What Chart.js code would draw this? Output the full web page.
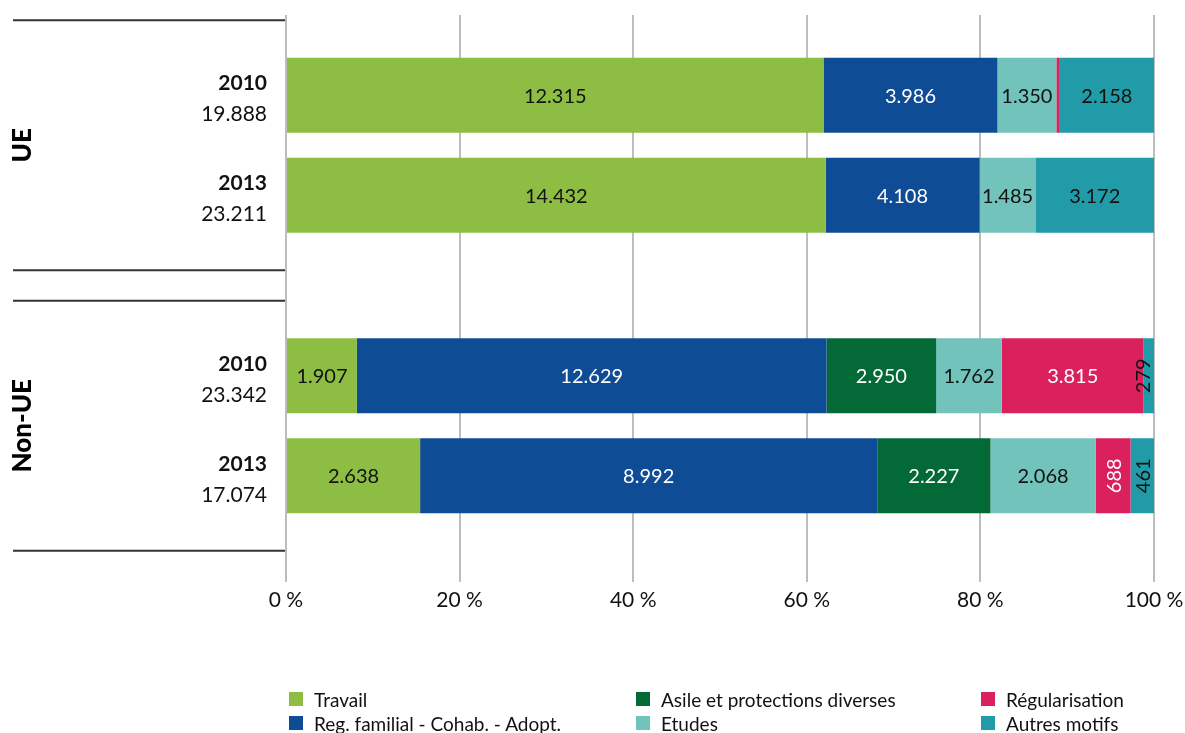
<!DOCTYPE html>
<html lang="fr">
<head>
<meta charset="utf-8">
<script src="https://cdn.jsdelivr.net/npm/chart.js@4/dist/chart.umd.min.js"></script>
<style>
  html, body { margin: 0; padding: 0; background: #fff; }
  #wrap { position: relative; width: 1185px; height: 733px; font-family: Lato, sans-serif; }
  #legend {
    position: absolute; left: 289px; top: 687px;
    display: grid; grid-auto-flow: column;
    grid-template-rows: 24px 24px; grid-template-columns: 347px 345px 200px;
    font-size: 19px; color: #111;
  }
  .item { display: flex; align-items: center; white-space: nowrap; }
  .sw { width: 14px; height: 14px; margin-right: 11px; flex: none; }
</style>
</head>
<body>
<div id="wrap">
  <canvas id="chart"></canvas>
  <div id="legend"></div>
</div>
<script>
// groups, years and motives
const groups = ["UE", "Non-UE"];
const years = ["2010", "2013"];
const categories = ["Travail", "Reg. familial - Cohab. - Adopt.", "Asile et protections diverses",
                    "Etudes", "Régularisation", "Autres motifs"];
const colors = ["#8dbe43", "#0f4c96", "#036a37", "#72c3bb", "#da205d", "#229ba9"];
const textColors = ["#111", "#fff", "#fff", "#111", "#fff", "#111"];

// values per motive, same order as categories
const ue2010 = [12315, 3986, 0, 1350, 79, 2158];
const ue2013 = [14432, 4108, 14, 1485, 0, 3172];
const nonUe2010 = [1907, 12629, 2950, 1762, 3815, 279];
const nonUe2013 = [2638, 8992, 2227, 2068, 688, 461];

// printed totals [UE, Non-UE]
const totals2010 = [19888, 23342];
const totals2013 = [23211, 17074];

const xTicks = [0, 20, 40, 60, 80, 100];

const yearValues = { "2010": [ue2010, nonUe2010], "2013": [ue2013, nonUe2013] };
const yearTotals = { "2010": totals2010, "2013": totals2013 };

const fmt = n => String(n).replace(/\B(?=(\d{3})+(?!\d))/g, ".");
const FONT = "Lato, sans-serif";
const GRID_TOP = 15;

// one dataset per motive and year, stacked by year
const datasets = [];
years.forEach(yr => {
  categories.forEach((cat, c) => {
    datasets.push({
      label: cat,
      stack: yr,
      raw: groups.map((g, gi) => yearValues[yr][gi][c]),
      data: groups.map((g, gi) => yearValues[yr][gi][c] / yearTotals[yr][gi] * 100),
      backgroundColor: colors[c],
      textColor: textColors[c],
      borderWidth: 0,
      categoryPercentage: 0.713,
      barPercentage: 0.75
    });
  });
});

// draw values, row labels and group labels
const annotations = {
  id: "annotations",
  beforeDatasetsDraw(chart) {
    const { ctx, chartArea } = chart;
    ctx.save();
    ctx.fillStyle = "#fff";
    ctx.fillRect(chartArea.left - 3, 0, chartArea.width + 6, GRID_TOP);
    ctx.restore();
  },
  afterDatasetsDraw(chart) {
    const { ctx, chartArea } = chart;
    ctx.save();
    ctx.font = "20px " + FONT;
    ctx.textBaseline = "middle";
    ctx.textAlign = "center";
    chart.data.datasets.forEach((ds, i) => {
      chart.getDatasetMeta(i).data.forEach((bar, j) => {
        const { x, base, y } = bar.getProps(["x", "base", "y"], true);
        const w = Math.abs(x - base);
        if (w < 6) return;
        const txt = fmt(ds.raw[j]);
        const tw = ctx.measureText(txt).width;
        ctx.fillStyle = ds.textColor;
        const cx = (x + base) / 2;
        if (tw + 2 > w) {
          ctx.save();
          ctx.translate(Math.min(cx, chartArea.right - 11), y);
          ctx.rotate(-Math.PI / 2);
          ctx.fillText(txt, 0, 1);
          ctx.restore();
        } else {
          ctx.fillText(txt, cx, y + 1);
        }
      });
    });
    ctx.restore();
  },
  afterDraw(chart) {
    const { ctx } = chart;
    const yScale = chart.scales.y;
    ctx.save();
    // year + total per bar
    ctx.textAlign = "right";
    ctx.textBaseline = "middle";
    ctx.fillStyle = "#111";
    years.forEach((yr, k) => {
      const meta = chart.getDatasetMeta(k * categories.length);
      meta.data.forEach((bar, gi) => {
        ctx.font = "bold 21px " + FONT;
        ctx.fillText(yr, 267, bar.y - 12);
        ctx.font = "21px " + FONT;
        ctx.fillText(fmt(yearTotals[yr][gi]), 267, bar.y + 19);
      });
    });
    // group separators and names
    groups.forEach((g, gi) => {
      const cy = yScale.getPixelForValue(gi);
      ctx.strokeStyle = "#333";
      ctx.lineWidth = 2;
      [cy - 125, cy + 125].forEach(ly => {
        ctx.beginPath();
        ctx.moveTo(13, ly);
        ctx.lineTo(285, ly);
        ctx.stroke();
      });
      ctx.save();
      ctx.translate(23, cy);
      ctx.rotate(-Math.PI / 2);
      ctx.textAlign = "center";
      ctx.fillStyle = "#000";
      ctx.font = "900 26px " + FONT;
      ctx.fillText(g, 0, 0);
      ctx.restore();
    });
    ctx.restore();
  }
};

new Chart(document.getElementById("chart"), {
  type: "bar",
  data: { labels: groups, datasets },
  options: {
    indexAxis: "y",
    responsive: true,
    maintainAspectRatio: false,
    animation: false,
    layout: { padding: { left: 286, right: 31, top: 5, bottom: 107 } },
    plugins: { legend: { display: false }, tooltip: { enabled: false } },
    scales: {
      x: {
        stacked: true,
        min: 0, max: 100,
        afterBuildTicks: s => { s.ticks = xTicks.map(v => ({ value: v })); },
        afterFit: s => { s.height = 60; s.paddingLeft = 0; s.paddingRight = 0; },
        ticks: { callback: v => v + " %", font: { family: FONT, size: 21 }, color: "#111", padding: 6 },
        grid: { color: "#bdbdbd", lineWidth: 2, tickLength: 16 },
        border: { display: false }
      },
      y: { stacked: true, display: false }
    }
  },
  plugins: [annotations]
});

// html legend
const legend = document.getElementById("legend");
categories.forEach((cat, c) => {
  const it = document.createElement("div");
  it.className = "item";
  it.innerHTML = `<span class="sw" style="background:${colors[c]}"></span><span>${cat}</span>`;
  legend.appendChild(it);
});
</script>
</body>
</html>
